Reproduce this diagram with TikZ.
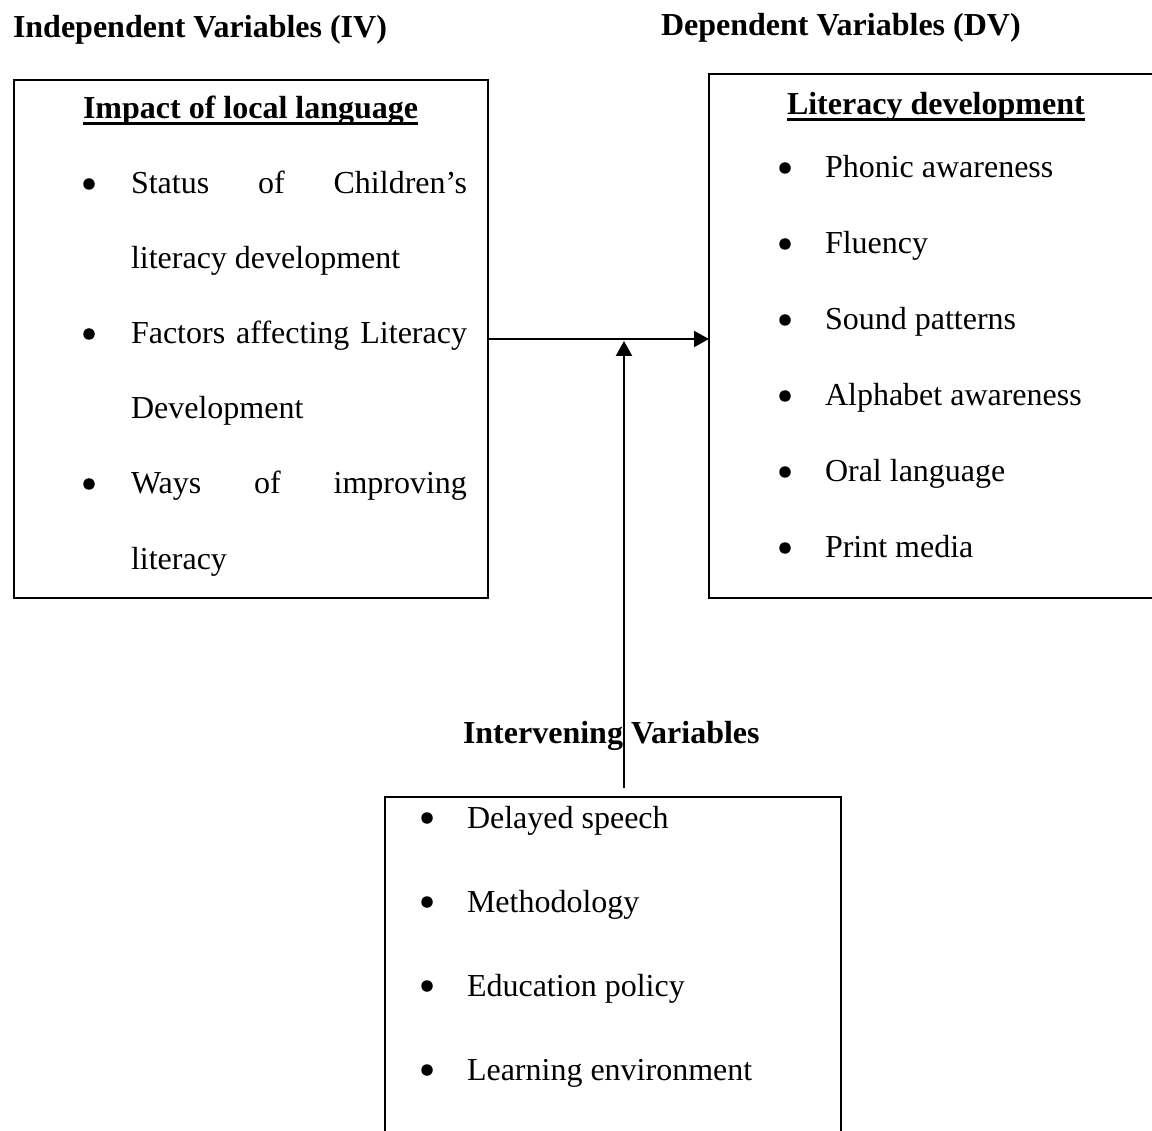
\documentclass[tikz,border=0pt]{standalone}
\usepackage{fontspec}
\setmainfont{Liberation Serif}
\usetikzlibrary{arrows.meta}
\begin{document}
\begin{tikzpicture}[x=1pt,y=-1pt,
  every node/.style={inner sep=0pt,outer sep=0pt,font=\fontsize{32}{38}\selectfont},
  box/.style={draw,line width=2.2pt,anchor=north west},
  txt/.style={anchor=base west},
  bul/.style={circle,fill,minimum size=11.5pt},
  head/.style={anchor=base west,font=\fontsize{32}{38}\selectfont\bfseries},
  conn/.style={line width=2.2pt,-{Triangle[length=15pt,width=16pt]}},
  uline/.style={line width=3pt}]
\useasboundingbox (0,0) rectangle (1152,1131);
\clip (0,0) rectangle (1152,1131);
% boxes
\node[box,minimum width=474pt,minimum height=518pt] (lbox) at (14,80) {};
\node[box,minimum width=470pt,minimum height=524pt] (rbox) at (709,74) {};
\node[box,minimum width=456pt,minimum height=380pt] (bbox) at (385,797) {};
% titles
\node[head] (ivt) at (13,38) {Independent Variables (IV)};
\node[head] (dvt) at (661,36) {Dependent Variables (DV)};
\node[head] (lh) at (83,119) {Impact of local language};
\draw[uline] ([yshift=-5pt]lh.base west) -- ([yshift=-5pt]lh.base east);
\node[head] (rh) at (787,115) {Literacy development};
\draw[uline] ([yshift=-5pt]rh.base west) -- ([yshift=-5pt]rh.base east);
\node[head] (ivh) at (463,743) {Intervening Variables};
% left items
\node[bul] (lb1) at (89,184) {};
\node[txt] (l1) at (131,194) {\makebox[336pt][s]{Status of Children’s}};
\node[txt] (l1b) at (131,269) {literacy development};
\node[bul] (lb2) at (89,334) {};
\node[txt] (l2) at (131,344) {\makebox[336pt][s]{Factors affecting Literacy}};
\node[txt] (l2b) at (131,419) {Development};
\node[bul] (lb3) at (89,484) {};
\node[txt] (l3) at (131,494) {\makebox[336pt][s]{Ways of improving}};
\node[txt] (l3b) at (131,569) {literacy};
% right items
\node[bul] (rb1) at (785,168) {};
\node[txt] (r1) at (825,178) {Phonic awareness};
\node[bul] (rb2) at (785,244) {};
\node[txt] (r2) at (825,254) {Fluency};
\node[bul] (rb3) at (785,320) {};
\node[txt] (r3) at (825,330) {Sound patterns};
\node[bul] (rb4) at (785,396) {};
\node[txt] (r4) at (825,406) {Alphabet awareness};
\node[bul] (rb5) at (785,472) {};
\node[txt] (r5) at (825,482) {Oral language};
\node[bul] (rb6) at (785,548) {};
\node[txt] (r6) at (825,558) {Print media};
% bottom items
\node[bul] (bb1) at (427,818) {};
\node[txt] (b1) at (467,828) {Delayed speech};
\node[bul] (bb2) at (427,902) {};
\node[txt] (b2) at (467,912) {Methodology};
\node[bul] (bb3) at (427,986) {};
\node[txt] (b3) at (467,996) {Education policy};
\node[bul] (bb4) at (427,1070) {};
\node[txt] (b4) at (467,1080) {Learning environment};
% connectors
\draw[conn] (lbox.east) -- (lbox.east -| rbox.west);
\coordinate (j) at (624,341);
\coordinate (vs) at (624,788);
\draw[conn] (vs) -- (j);
\end{tikzpicture}
\end{document}
